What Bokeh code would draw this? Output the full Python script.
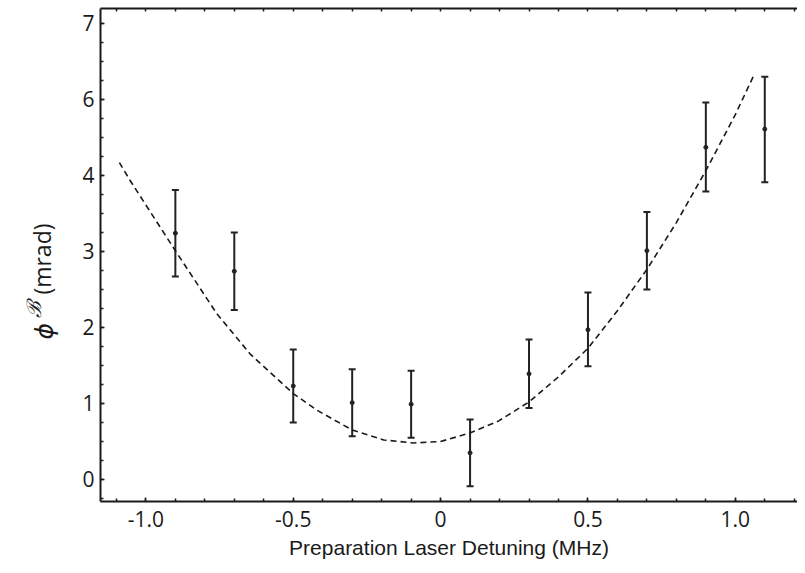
import numpy as np
from bokeh.plotting import figure
from bokeh.layouts import row
from bokeh.models import (ColumnDataSource, Whisker, TeeHead, LinearAxis,
                          FixedTicker, Range1d)
from bokeh.core.properties import value
from bokeh.embed import file_html
from bokeh.resources import INLINE

# ---- data ----
detuning = [-0.9, -0.7, -0.5, -0.3, -0.1, 0.1, 0.3, 0.5, 0.7, 0.9, 1.1]
phase = [3.24, 2.74, 1.23, 1.01, 0.99, 0.35, 1.39, 1.97, 3.01, 4.37, 4.61]
err_upper = [3.81, 3.25, 1.71, 1.45, 1.43, 0.79, 1.84, 2.46, 3.52, 4.96, 5.30]
err_lower = [2.67, 2.23, 0.75, 0.57, 0.55, -0.09, 0.94, 1.49, 2.50, 3.79, 3.91]

fit_x = [-1.09, -1.053, -0.90, -0.80, -0.759, -0.646, -0.50, -0.419, -0.30,
         -0.193, -0.092, 0.0, 0.099, 0.197, 0.30, 0.40, 0.501, 0.60, 0.701,
         0.80, 0.901, 1.00, 1.063]
fit_y = [4.17, 3.93, 3.01, 2.42, 2.18, 1.65, 1.13, 0.91, 0.65,
         0.52, 0.48, 0.50, 0.61, 0.77, 1.02, 1.35, 1.73, 2.22, 2.77,
         3.38, 4.07, 4.80, 5.32]

x_tick_values = [-1.0, -0.5, 0.0, 0.5, 1.0]
x_tick_labels = ["-1.0", "-0.5", "0", "0.5", "1.0"]
y_tick_positions = [0, 1, 2, 3, 4, 5, 6]
y_tick_labels = ["0", "1", "2", "3", "4", "6", "7"]

x_title = "Preparation Laser Detuning (MHz)"
y_symbol = "ϕ"
y_super = "ℬ"
y_unit = "(mrad)"

INK = "#1a1a1a"
H = 565
TITLE_W = 60
BORDER_TOP, BORDER_BOTTOM = 8, 64

X0, X1 = -1.154, 1.211
Y0, Y1 = -0.29, 6.197
y_range = Range1d(Y0, Y1)

# ---------------- main plot ----------------
p = figure(width=797 - TITLE_W, height=H, output_backend="svg",
           toolbar_location=None,
           x_range=Range1d(X0, X1), y_range=y_range,
           min_border_left=100 - TITLE_W, min_border_right=0,
           min_border_top=BORDER_TOP, min_border_bottom=BORDER_BOTTOM)
p.xgrid.visible = False
p.ygrid.visible = False
p.outline_line_color = None
p.background_fill_color = "white"

x_minor = [round(v, 2) for v in np.arange(-1.1, 1.25, 0.1)]
y_minor = [round(v, 2) for v in np.arange(-0.25, 6.2, 0.25)]


def style_axis(ax):
    ax.axis_line_width = 2
    ax.axis_line_color = INK
    ax.major_tick_in = 4
    ax.major_tick_out = 0
    ax.minor_tick_in = 3
    ax.minor_tick_out = 0
    ax.major_tick_line_width = 1.5
    ax.minor_tick_line_width = 1.5
    ax.major_tick_line_color = INK
    ax.minor_tick_line_color = INK
    ax.major_label_text_font = "Open Sans"
    ax.major_label_text_font_size = "21px"
    ax.major_label_text_color = INK


xa = p.xaxis[0]
xa.ticker = FixedTicker(ticks=x_tick_values, minor_ticks=x_minor)
xa.major_label_overrides = {v: l for v, l in zip(x_tick_values, x_tick_labels)}
style_axis(xa)
xa.major_label_standoff = 9
xa.axis_label = x_title
xa.axis_label_text_font = "Liberation Sans"
xa.axis_label_text_font_size = "21px"
xa.axis_label_text_font_style = "normal"
xa.axis_label_text_color = INK
xa.axis_label_standoff = 6

ya = p.yaxis[0]
ya.ticker = FixedTicker(ticks=y_tick_positions, minor_ticks=y_minor)
ya.major_label_overrides = {v: l for v, l in zip(y_tick_positions, y_tick_labels)}
style_axis(ya)
ya.major_label_standoff = 6

# top frame edge with inward ticks only (no labels)
top = LinearAxis(ticker=FixedTicker(ticks=[], minor_ticks=x_minor))
style_axis(top)
p.add_layout(top, "above")

# fit curve
p.line(fit_x, fit_y, line_color=INK, line_width=1.6, line_dash="6 4")

# error bars
src = ColumnDataSource(dict(x=detuning, y=phase, upper=err_upper, lower=err_lower))
wh = Whisker(source=src, base="x", upper="upper", lower="lower",
             line_color="#222222", line_width=2,
             upper_head=TeeHead(size=7, line_color="#222222", line_width=2),
             lower_head=TeeHead(size=7, line_color="#222222", line_width=2))
p.add_layout(wh)
p.scatter("x", "y", source=src, size=4, color="#222222")

# ---------------- y-axis title strip (phi with script-B superscript) --------
# shares the main plot's vertical scale, so positions are in y-axis units
yt = figure(width=TITLE_W, height=H, output_backend="svg", toolbar_location=None,
            x_range=Range1d(0, TITLE_W), y_range=y_range,
            x_axis_type=None, y_axis_type=None,
            min_border_left=0, min_border_right=0,
            min_border_top=BORDER_TOP, min_border_bottom=BORDER_BOTTOM)
yt.outline_line_color = None
yt.background_fill_color = "white"

for txt, x, y, font, style, size in [
    (y_symbol, 44, 1.95, "DejaVu Sans", "italic", "25px"),
    (y_super, 33, 2.23, "DejaVu Serif", "italic", "20px"),
    (y_unit, 41, 2.90, "Open Sans", "normal", "23px"),
]:
    yt.text(x=[x], y=[y], text=[txt], angle=np.pi / 2,
            text_align="center", text_baseline="middle",
            text_font=value(font), text_font_style=style,
            text_font_size=size, text_color=INK)

layout = row(yt, p, spacing=0)
open("out.html", "w").write(file_html(layout, INLINE))
